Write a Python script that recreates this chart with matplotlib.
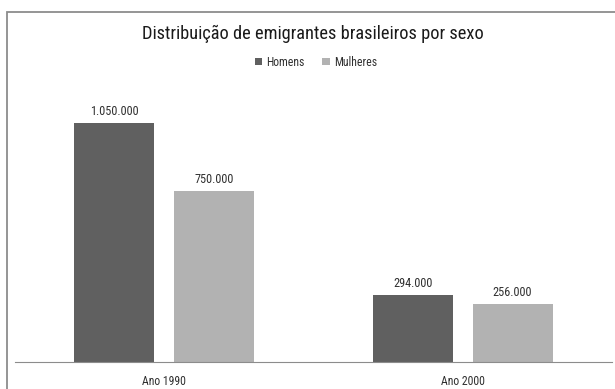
import matplotlib.pyplot as plt
import matplotlib.patches as mpatches
import numpy as np

# data
anos = ['Ano 1990', 'Ano 2000']
homens = [1050000, 294000]
mulheres = [750000, 256000]
rotulos_h = ['1.050.000', '294.000']
rotulos_m = ['750.000', '256.000']

plt.rcParams['font.family'] = ['Roboto Condensed', 'Archivo Narrow', 'DejaVu Sans']

fig = plt.figure(figsize=(6.15, 3.89), dpi=100)
ax = fig.add_axes([15/615, 1 - 362/389, (612 - 15)/615, (362 - 89)/389])

# outer chart border
fig.patches.append(mpatches.Rectangle((7/615, -0.05), 1.0, 1 - 12/389 + 0.05,
                                      transform=fig.transFigure, fill=False,
                                      edgecolor='#8c8c8c', linewidth=1.3))

x = np.arange(len(anos))
w = 0.268
off = 0.167
cor_h = '#606060'
cor_m = '#b2b2b2'

bh = ax.bar(x - off, homens, w, color=cor_h, label='Homens')
bm = ax.bar(x + off, mulheres, w, color=cor_m, label='Mulheres')

for b, t in zip(bh, rotulos_h):
    ax.text(b.get_x() + b.get_width()/2, b.get_height() + 22000, t,
            ha='center', va='bottom', fontsize=8.8, color='#303030')
for b, t in zip(bm, rotulos_m):
    ax.text(b.get_x() + b.get_width()/2, b.get_height() + 22000, t,
            ha='center', va='bottom', fontsize=8.8, color='#303030')

ax.set_xlim(-0.5, 1.5)
ax.set_ylim(0, 1200000)
ax.set_xticks(x)
ax.set_xticklabels(anos, fontsize=8.5, color='#303030')
ax.tick_params(axis='x', length=0, pad=9.5)
ax.set_yticks([])
for s in ['top', 'right', 'left']:
    ax.spines[s].set_visible(False)
ax.spines['bottom'].set_color('#8c8c8c')

fig.text(313/615, 1 - 34/389, 'Distribuição de emigrantes brasileiros por sexo',
         ha='center', va='center', fontsize=13.2, color='#1a1a1a')
fig.legend(handles=[bh, bm], loc='center', bbox_to_anchor=(316/615, 1 - 62/389),
           ncol=2, frameon=False, fontsize=8.5, handlelength=0.6, handleheight=0.6,
           columnspacing=1.5, handletextpad=0.4, labelcolor='#303030')

fig.savefig('out.png', dpi=100, facecolor='white')
